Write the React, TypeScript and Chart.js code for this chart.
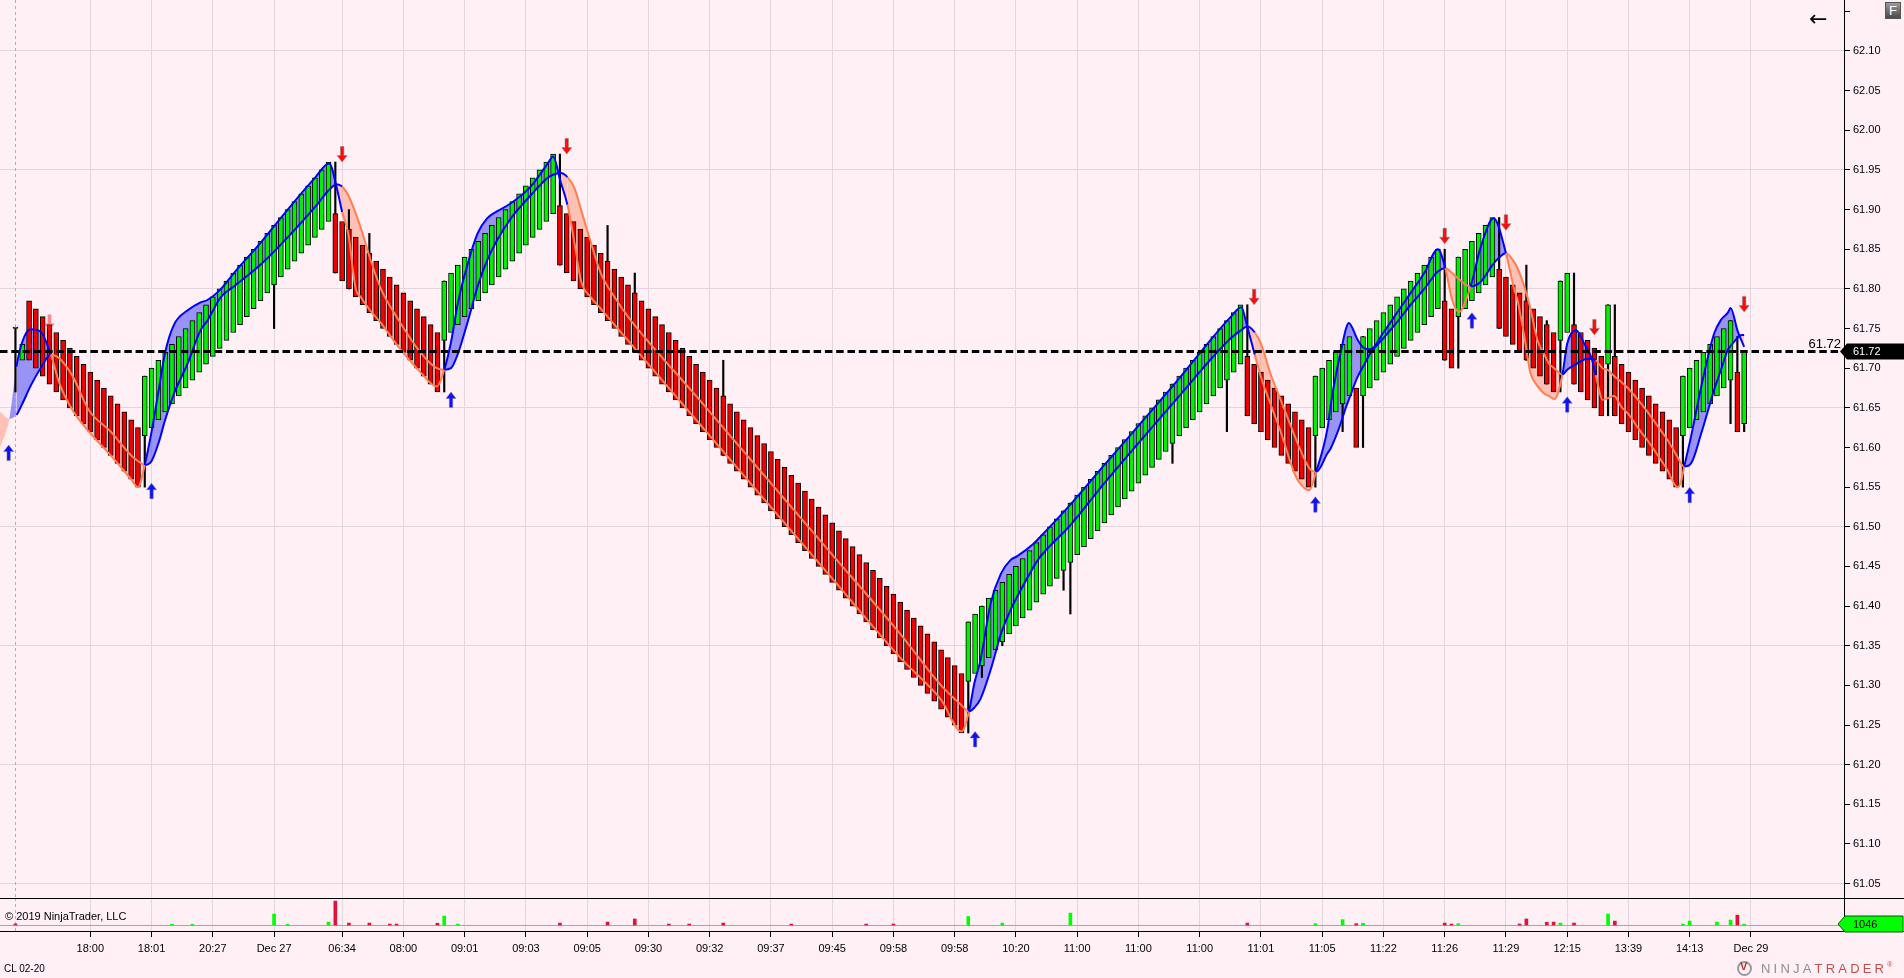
import React, { useEffect, useRef } from "react"
import { Chart, registerables } from "chart.js"

Chart.register(...registerables)
Chart.defaults.font.family = "'Liberation Sans', Arial, sans-serif"

// ---- data ----

// renko closes, one per bar (CL 02-20)
const closes = [
  61.75, 61.73,
  61.71, 61.70, 61.69, 61.68, 61.67, 61.66, 61.65, 61.64, 61.63, 61.62, 61.61, 61.60, 61.59, 61.58, 61.57, 61.56, 61.55,
  61.69, 61.70, 61.71, 61.72, 61.73, 61.74, 61.75, 61.76, 61.77, 61.78, 61.79, 61.80, 61.81, 61.82, 61.83, 61.84,
  61.85, 61.86, 61.87, 61.88, 61.89, 61.90, 61.91, 61.92, 61.93, 61.94, 61.95, 61.96,
  61.82, 61.81, 61.80, 61.79, 61.78, 61.77, 61.76, 61.75, 61.74, 61.73, 61.72, 61.71, 61.70, 61.69, 61.68, 61.67,
  61.81, 61.82, 61.83, 61.84, 61.85, 61.86, 61.87, 61.88, 61.89, 61.90, 61.91, 61.92, 61.93, 61.94, 61.95, 61.96, 61.97,
  61.83, 61.82, 61.81, 61.80, 61.79, 61.78, 61.77, 61.76, 61.75, 61.74,
  61.73, 61.72, 61.71, 61.70, 61.69, 61.68, 61.67, 61.66, 61.65, 61.64,
  61.63, 61.62, 61.61, 61.60, 61.59, 61.58, 61.57, 61.56, 61.55, 61.54,
  61.53, 61.52, 61.51, 61.50, 61.49, 61.48, 61.47, 61.46, 61.45, 61.44,
  61.43, 61.42, 61.41, 61.40, 61.39, 61.38, 61.37, 61.36, 61.35, 61.34,
  61.33, 61.32, 61.31, 61.30, 61.29, 61.28, 61.27, 61.26, 61.25, 61.24,
  61.38, 61.39, 61.40, 61.41, 61.42, 61.43, 61.44, 61.45, 61.46, 61.47,
  61.48, 61.49, 61.50, 61.51, 61.52, 61.53, 61.54, 61.55, 61.56, 61.57,
  61.58, 61.59, 61.60, 61.61, 61.62, 61.63, 61.64, 61.65, 61.66, 61.67,
  61.68, 61.69, 61.70, 61.71, 61.72, 61.73, 61.74, 61.75, 61.76, 61.77,
  61.78,
  61.64, 61.63, 61.62, 61.61, 61.60, 61.59, 61.58, 61.57, 61.56, 61.55,
  61.69, 61.70, 61.71, 61.72, 61.73, 61.74,
  61.60,
  61.74, 61.75, 61.76, 61.77, 61.78, 61.79, 61.80, 61.81, 61.82, 61.83, 61.84, 61.85,
  61.71, 61.70,
  61.84, 61.85, 61.86, 61.87, 61.88, 61.89,
  61.75, 61.74, 61.73, 61.72, 61.71, 61.70, 61.69, 61.68, 61.67,
  61.81, 61.82,
  61.68, 61.67, 61.66, 61.65, 61.64,
  61.78,
  61.64, 61.63, 61.62, 61.61, 61.60, 61.59, 61.58, 61.57, 61.56, 61.55,
  61.69, 61.70, 61.71, 61.72, 61.73, 61.74, 61.75, 61.76,
  61.62, 61.72,
]

// bars whose open is not one brick away from the close
const openOverrides: [number, number][] = [[0, 61.752], [1, 61.71], [254, 61.63]]
const brickHeight = 0.075

// [bar, low, high]
const wicks: [number, number, number][] = [
  [0, 61.67, 61.75], [19, 61.55, 61.69], [38, 61.75, 61.88], [47, 61.82, 61.96], [49, 61.80, 61.90],
  [52, 61.77, 61.87], [63, 61.67, 61.81], [80, 61.83, 61.97], [87, 61.76, 61.88], [91, 61.72, 61.82],
  [104, 61.59, 61.71], [140, 61.24, 61.38], [142, 61.31, 61.40], [145, 61.35, 61.43], [154, 61.42, 61.52],
  [155, 61.39, 61.53], [170, 61.58, 61.68], [178, 61.62, 61.76], [181, 61.64, 61.78], [191, 61.55, 61.69],
  [195, 61.62, 61.73], [198, 61.60, 61.74], [210, 61.71, 61.85], [212, 61.70, 61.84], [218, 61.75, 61.89],
  [222, 61.71, 61.83], [225, 61.68, 61.76], [227, 61.67, 61.81], [229, 61.68, 61.82], [234, 61.64, 61.78],
  [235, 61.64, 61.78], [245, 61.55, 61.69], [252, 61.63, 61.76], [253, 61.62, 61.74], [254, 61.62, 61.72],
]

// trend band: fast and slow line, sampled at these bar positions
const bandX = [
  -2.27, -0.9, 0.15, 1, 2.25, 3.7, 5.2, 6.5, 8.4, 10.8, 14, 17, 18, 19, 20, 21, 22, 23.3, 25.3, 27.2,
  28.2, 30.2, 32.1, 36.2, 40, 44, 46.1, 47.2, 48, 48.9, 50, 50.7, 52.2, 53.7, 56, 59.5, 61.9, 63, 64, 65,
  66.4, 67.9, 69.3, 70.8, 72.8, 75.7, 78.2, 79, 80.1, 81.1, 82.1, 83.1, 84.5, 86, 88, 90, 100, 110, 120, 130,
  136, 139, 140.1, 140.9, 141.8, 143.3, 144.8, 146.2, 147.2, 149.5, 150.2, 155, 160, 170, 178.6, 180.1, 181, 182.1, 183, 184.4,
  185.9, 187.8, 188.4, 190.1, 191.1, 192.8, 193.2, 194.2, 194.7, 195.5, 195.9, 197.2, 198.2, 199.1, 201, 203, 205, 207, 209, 210.1,
  211.1, 212.1, 213.8, 215.3, 217.2, 219, 220.2, 220.7, 221.7, 222.6, 223.6, 224.6, 225.3, 226.1, 227.3, 228, 229.3, 230.5, 231.6, 232.2,
  233.2, 233.9, 234.9, 235.9, 236.9, 238.8, 239.8, 241.7, 242.7, 244.2, 244.7, 245.2, 246.2, 247.7, 249.6, 250.6, 251.6, 252, 253, 253.3,
  254,
]
const bandFast = [
  61.600, 61.636, 61.702, 61.733, 61.749, 61.746, 61.717, 61.680, 61.647, 61.620, 61.590, 61.560, 61.550, 61.578, 61.620, 61.670, 61.720, 61.755, 61.773, 61.783,
  61.786, 61.800, 61.820, 61.860, 61.900, 61.940, 61.958, 61.928, 61.897, 61.870, 61.800, 61.790, 61.772, 61.757, 61.730, 61.695, 61.677, 61.698, 61.733, 61.782,
  61.830, 61.870, 61.889, 61.898, 61.908, 61.929, 61.958, 61.967, 61.935, 61.906, 61.860, 61.810, 61.790, 61.775, 61.755, 61.735, 61.635, 61.535, 61.435, 61.335,
  61.282, 61.242, 61.267, 61.303, 61.332, 61.404, 61.441, 61.458, 61.463, 61.478, 61.484, 61.528, 61.578, 61.677, 61.765, 61.777, 61.752, 61.717, 61.689, 61.655,
  61.620, 61.570, 61.559, 61.546, 61.569, 61.625, 61.651, 61.700, 61.719, 61.750, 61.757, 61.736, 61.725, 61.724, 61.745, 61.770, 61.795, 61.820, 61.850, 61.826,
  61.786, 61.771, 61.803, 61.853, 61.889, 61.845, 61.800, 61.786, 61.740, 61.694, 61.678, 61.668, 61.665, 61.661, 61.692, 61.731, 61.748, 61.731, 61.712, 61.691,
  61.660, 61.662, 61.665, 61.652, 61.643, 61.620, 61.609, 61.585, 61.572, 61.550, 61.556, 61.576, 61.614, 61.677, 61.744, 61.761, 61.770, 61.776, 61.748, 61.741,
  61.727,
]
const bandSlow = [
  61.645, 61.636, 61.641, 61.655, 61.678, 61.700, 61.717, 61.712, 61.690, 61.647, 61.620, 61.590, 61.583, 61.578, 61.583, 61.605, 61.635, 61.668, 61.706, 61.748,
  61.760, 61.790, 61.803, 61.832, 61.865, 61.903, 61.925, 61.932, 61.929, 61.918, 61.895, 61.878, 61.836, 61.800, 61.765, 61.720, 61.700, 61.698, 61.700, 61.718,
  61.757, 61.803, 61.836, 61.862, 61.889, 61.918, 61.940, 61.944, 61.946, 61.941, 61.928, 61.900, 61.860, 61.820, 61.790, 61.765, 61.665, 61.565, 61.465, 61.365,
  61.300, 61.275, 61.267, 61.272, 61.283, 61.320, 61.365, 61.395, 61.412, 61.448, 61.458, 61.502, 61.555, 61.655, 61.738, 61.748, 61.753, 61.745, 61.731, 61.693,
  61.660, 61.618, 61.605, 61.574, 61.569, 61.593, 61.598, 61.618, 61.630, 61.651, 61.660, 61.689, 61.705, 61.719, 61.738, 61.758, 61.780, 61.800, 61.822, 61.826,
  61.820, 61.812, 61.803, 61.809, 61.832, 61.845, 61.834, 61.826, 61.803, 61.775, 61.736, 61.718, 61.706, 61.700, 61.692, 61.698, 61.705, 61.711, 61.712, 61.710,
  61.700, 61.698, 61.690, 61.683, 61.675, 61.656, 61.645, 61.622, 61.610, 61.588, 61.580, 61.576, 61.580, 61.618, 61.673, 61.698, 61.723, 61.728, 61.738, 61.741,
  61.742,
]

// where the band changes colour (true = up / blue)
const trendSwitchX = [-0.9, 5.2, 19, 48, 63, 81.1, 140.1, 182.1, 191.1, 210.1, 213.8, 219, 227.3, 232.2, 245.2]
const trendSwitchUp = [true, false, true, false, true, false, true, false, true, false, true, false, true, false, true]

// [bar, tip price, opacity]
const downArrows: [number, number, number][] = [
  [5, 61.748, 0.45], [48, 61.96, 1], [81, 61.97, 1], [182, 61.78, 1],
  [210, 61.857, 1], [219, 61.874, 1], [232, 61.742, 1], [254, 61.771, 1],
]
// [bar, tip price]
const upArrows: [number, number][] = [
  [-1, 61.603], [20, 61.555], [64, 61.67], [141, 61.242],
  [191, 61.538], [214, 61.77], [228, 61.664], [246, 61.55],
]

// [bar, volume]
const volumes: [number, number][] = [
  [0, 1300], [23, 900], [26, 900], [38, 12200], [40, 900], [46, 3300], [47, 26600], [49, 2200], [52, 2200],
  [55, 1100], [56, 1100], [62, 2000], [63, 10000], [65, 1000], [80, 2200], [87, 3300], [91, 6700], [96, 1100],
  [99, 1100], [104, 2200], [114, 1100], [125, 1100], [129, 1100], [140, 9500], [145, 2200], [155, 13300],
  [181, 2200], [191, 1500], [195, 6000], [197, 1500], [198, 2000], [210, 2200], [211, 1100], [212, 1500],
  [221, 1200], [222, 6700], [225, 3000], [226, 3300], [227, 2200], [229, 2200], [234, 12200], [235, 4400],
  [245, 1100], [246, 4400], [250, 3300], [252, 5500], [253, 11000], [254, 1046],
]

const timeLabels = [
  "18:00", "18:01", "20:27", "Dec 27", "06:34", "08:00", "09:01", "09:03", "09:05", "09:30",
  "09:32", "09:37", "09:45", "09:58", "09:58", "10:20", "11:00", "11:00", "11:00", "11:01",
  "11:05", "11:22", "11:26", "11:29", "12:15", "13:39", "14:13", "Dec 29",
]
// bar slot each time label sits on
const timeTickBars = [
  11, 20, 29, 38, 48, 57, 66, 75, 84, 93, 102, 111, 120, 129,
  138, 147, 156, 165, 174, 183, 192, 201, 210, 219, 228, 237, 246, 255,
]
const priceTicks = [
  61.05, 61.1, 61.15, 61.2, 61.25, 61.3, 61.35, 61.4, 61.45, 61.5, 61.55, 61.6,
  61.65, 61.7, 61.75, 61.8, 61.85, 61.9, 61.95, 62.0, 62.05, 62.1, 62.15,
]

// ---- layout ----
const W = 1904
const PRICE_H = 898
const VOL_H = 80
const AXIS_W = 60
const X_MIN = -2.27
const X_MAX = 268.67
const Y_MIN = 61.0319
const Y_MAX = 62.1643
const VOL_MIN = -6600
const VOL_MAX = 30000

const BG = "#fff0f5"
const GRID = "#e2d6dc"
const GREEN = "#00f000"
const RED = "#f00000"
const BLUE = "#0000ff"
const CORAL = "rgb(255,127,80)"
const LAVENDER = "rgba(80,80,245,0.58)"
const SALMON = "rgba(255,130,100,0.43)"
const FONT = "'Liberation Sans', Arial, sans-serif"

const opens = closes.map((c, i) => {
  const o = openOverrides.find((d) => d[0] === i)
  if (o) return o[1]
  const prev = i > 0 ? closes[i - 1] : c
  return c > prev ? c - brickHeight : c + brickHeight
})
const isUp = closes.map((c, i) => c >= opens[i])
const lastClose = closes[closes.length - 1]

const trendUpAt = (x: number) => {
  let up = false
  trendSwitchX.forEach((sx, i) => {
    if (x >= sx - 1e-9) up = trendSwitchUp[i]
  })
  return up
}

const segColor = (ctx: any) => {
  if (ctx.p0.parsed.x < 0) return "rgba(0,0,0,0)"
  return trendUpAt(ctx.p0.parsed.x) ? BLUE : CORAL
}

const drawArrow = (ctx: CanvasRenderingContext2D, x: number, tipY: number, up: boolean, color: string, alpha: number) => {
  const d = up ? -1 : 1
  const headH = 6.5
  const total = 15.5
  const headW = 5
  const shaftW = 1.7
  ctx.save()
  ctx.globalAlpha = alpha
  ctx.beginPath()
  ctx.moveTo(x, tipY)
  ctx.lineTo(x + headW, tipY - d * headH)
  ctx.lineTo(x + shaftW, tipY - d * headH)
  ctx.lineTo(x + shaftW, tipY - d * total)
  ctx.lineTo(x - shaftW, tipY - d * total)
  ctx.lineTo(x - shaftW, tipY - d * headH)
  ctx.lineTo(x - headW, tipY - d * headH)
  ctx.closePath()
  ctx.fillStyle = color
  ctx.fill()
  ctx.strokeStyle = "rgba(130,130,130,0.5)"
  ctx.lineWidth = 1
  ctx.stroke()
  ctx.restore()
}

const sessionLine = (chart: any, bottom: number) => {
  const { ctx, scales } = chart
  const xs = Math.round(scales.x.getPixelForValue(0)) + 0.5
  ctx.save()
  ctx.setLineDash([3, 3])
  ctx.strokeStyle = "#b4acb0"
  ctx.lineWidth = 1
  ctx.beginPath()
  ctx.moveTo(xs, 0)
  ctx.lineTo(xs, bottom)
  ctx.stroke()
  ctx.restore()
}

const pricePlugin = {
  id: "priceDecor",
  beforeDatasetsDraw(chart: any) {
    sessionLine(chart, chart.chartArea.bottom)
  },
  afterDatasetsDraw(chart: any) {
    const { ctx, chartArea, scales } = chart
    const x = scales.x
    const y = scales.y
    downArrows.forEach(([i, p, a]) => drawArrow(ctx, x.getPixelForValue(i), y.getPixelForValue(p), false, "#ff0a0a", a))
    upArrows.forEach(([i, p]) => drawArrow(ctx, x.getPixelForValue(i), y.getPixelForValue(p), true, "#1010ff", 1))

    const yl = Math.round(y.getPixelForValue(lastClose)) - 0.5
    ctx.save()
    ctx.setLineDash([7.5, 3.8])
    ctx.strokeStyle = "#000"
    ctx.lineWidth = 3
    ctx.beginPath()
    ctx.moveTo(chartArea.left, yl)
    ctx.lineTo(chartArea.right - 4, yl)
    ctx.stroke()
    ctx.setLineDash([])

    ctx.fillStyle = "#000"
    ctx.font = `13px ${FONT}`
    ctx.textAlign = "right"
    ctx.textBaseline = "alphabetic"
    ctx.fillText(lastClose.toFixed(2), chartArea.right - 3, yl - 4)

    const r = chartArea.right
    ctx.beginPath()
    ctx.moveTo(r - 4, yl)
    ctx.lineTo(r + 3, yl - 8)
    ctx.lineTo(W, yl - 8)
    ctx.lineTo(W, yl + 8)
    ctx.lineTo(r + 3, yl + 8)
    ctx.closePath()
    ctx.fill()
    ctx.fillStyle = "#fff"
    ctx.font = `11px ${FONT}`
    ctx.textAlign = "left"
    ctx.textBaseline = "middle"
    ctx.fillText(lastClose.toFixed(2), r + 9, yl + 0.5)
    ctx.restore()
  },
}

const volumePlugin = {
  id: "volumeDecor",
  beforeDatasetsDraw(chart: any) {
    const { ctx, chartArea, scales } = chart
    const y0 = Math.round(scales.y.getPixelForValue(0)) + 0.5
    ctx.save()
    ctx.strokeStyle = "#a8a8a8"
    ctx.lineWidth = 1
    ctx.beginPath()
    ctx.moveTo(chartArea.left, y0)
    ctx.lineTo(chartArea.right - 4, y0)
    ctx.stroke()
    ctx.restore()
    sessionLine(chart, chartArea.bottom)
  },
  afterDraw(chart: any) {
    const { ctx, chartArea, scales } = chart
    ctx.save()
    ctx.strokeStyle = "#000"
    ctx.lineWidth = 1
    ctx.beginPath()
    ctx.moveTo(0, 0.5)
    ctx.lineTo(W, 0.5)
    ctx.moveTo(0, chartArea.bottom + 0.5)
    ctx.lineTo(W, chartArea.bottom + 0.5)
    ctx.stroke()

    const last = volumes[volumes.length - 1]
    const yc = Math.round(scales.y.getPixelForValue(last[1]))
    const r = chartArea.right
    ctx.beginPath()
    ctx.moveTo(r - 6, yc)
    ctx.lineTo(r + 1, yc - 8)
    ctx.lineTo(W - 1, yc - 8)
    ctx.lineTo(W - 1, yc + 8)
    ctx.lineTo(r + 1, yc + 8)
    ctx.closePath()
    ctx.fillStyle = "#00ff00"
    ctx.fill()
    ctx.strokeStyle = "#005a00"
    ctx.stroke()
    ctx.fillStyle = "#000"
    ctx.font = `11px ${FONT}`
    ctx.textAlign = "left"
    ctx.textBaseline = "middle"
    ctx.fillText(String(last[1]), r + 9, yc + 0.5)
    ctx.restore()
  },
}

const timeAxisBase = {
  type: "linear" as const,
  min: X_MIN,
  max: X_MAX,
  offset: false,
  afterBuildTicks: (s: any) => {
    s.ticks = timeTickBars.map((v) => ({ value: v }))
  },
}

const PriceChart: React.FC = () => {
  const ref = useRef<HTMLCanvasElement>(null)
  useEffect(() => {
    if (!ref.current) return
    const chart = new Chart(ref.current, {
      type: "bar",
      data: {
        datasets: [
          {
            type: "line",
            data: bandX.map((x, i) => ({ x, y: bandFast[i] })),
            borderColor: BLUE,
            borderWidth: 2,
            pointRadius: 0,
            cubicInterpolationMode: "monotone",
            fill: { target: 1, above: LAVENDER, below: SALMON },
            segment: { borderColor: segColor },
            order: 0,
          },
          {
            type: "line",
            data: bandX.map((x, i) => ({ x, y: bandSlow[i] })),
            borderColor: BLUE,
            borderWidth: 2,
            pointRadius: 0,
            cubicInterpolationMode: "monotone",
            fill: false,
            segment: { borderColor: segColor },
            order: 0,
          },
          {
            type: "bar",
            data: closes.map((c, i) => ({ x: i, y: [opens[i], c] })),
            backgroundColor: isUp.map((u) => (u ? GREEN : RED)),
            borderColor: "#000",
            borderWidth: 1,
            borderSkipped: false,
            barThickness: 5,
            grouped: false,
            order: 1,
          },
          {
            type: "bar",
            data: wicks.map(([i, lo, hi]) => ({ x: i, y: [lo, hi] })),
            backgroundColor: "#000",
            borderWidth: 0,
            barThickness: 1.5,
            grouped: false,
            order: 2,
          },
        ] as any,
      },
      options: {
        animation: false,
        responsive: false,
        events: [],
        layout: { padding: 0 },
        plugins: {
          legend: { display: false },
          tooltip: { enabled: false },
          filler: { drawTime: "beforeDatasetsDraw" },
        } as any,
        scales: {
          x: {
            ...timeAxisBase,
            afterFit: (s: any) => {
              s.height = 0
              s.paddingLeft = 0
              s.paddingRight = 0
            },
            ticks: { display: false },
            grid: { color: GRID, drawTicks: false, offset: false },
            border: { display: false },
          },
          y: {
            type: "linear",
            position: "right",
            min: Y_MIN,
            max: Y_MAX,
            afterBuildTicks: (s: any) => {
              s.ticks = priceTicks.map((v) => ({ value: v }))
            },
            afterFit: (s: any) => {
              s.width = AXIS_W
              s.paddingTop = 0
              s.paddingBottom = 0
            },
            ticks: {
              autoSkip: false,
              padding: 3,
              color: "#000",
              font: { size: 11 },
              callback: (v: any) => (Number(v) > 62.12 ? "" : Number(v).toFixed(2)),
            },
            grid: {
              color: (ctx: any) => {
                const k = (62.1 - ctx.tick.value) / 0.15
                return Math.abs(k - Math.round(k)) < 1e-6 ? GRID : "rgba(0,0,0,0)"
              },
              tickColor: "#000",
              tickLength: 6,
            },
            border: { color: "#000", width: 1 },
          },
        } as any,
      },
      plugins: [pricePlugin],
    })
    return () => chart.destroy()
  }, [])
  return <canvas ref={ref} width={W} height={PRICE_H} style={{ position: "absolute", left: 0, top: 0 }} />
}

const VolumeChart: React.FC = () => {
  const ref = useRef<HTMLCanvasElement>(null)
  useEffect(() => {
    if (!ref.current) return
    const chart = new Chart(ref.current, {
      type: "bar",
      data: {
        datasets: [
          {
            data: volumes.map(([i, v]) => ({ x: i, y: v })),
            backgroundColor: volumes.map(([i]) => (isUp[i] ? "#00ff00" : "#dc143c")),
            borderWidth: 0,
            barThickness: 3,
            grouped: false,
          },
        ] as any,
      },
      options: {
        animation: false,
        responsive: false,
        events: [],
        layout: { padding: 0 },
        plugins: { legend: { display: false }, tooltip: { enabled: false } },
        scales: {
          x: {
            ...timeAxisBase,
            afterFit: (s: any) => {
              s.height = VOL_H - 33
              s.paddingLeft = 0
              s.paddingRight = 0
            },
            ticks: {
              autoSkip: false,
              maxRotation: 0,
              padding: 5,
              color: "#000",
              font: { size: 11 },
              callback: (_v: any, i: number) => timeLabels[i] ?? "",
            },
            grid: { color: GRID, tickColor: "#000", tickLength: 6, offset: false },
            border: { display: false },
          },
          y: {
            type: "linear",
            position: "right",
            min: VOL_MIN,
            max: VOL_MAX,
            afterFit: (s: any) => {
              s.width = AXIS_W
              s.paddingTop = 0
              s.paddingBottom = 0
            },
            ticks: { display: false },
            grid: { display: false },
            border: { color: "#000", width: 1 },
          },
        } as any,
      },
      plugins: [volumePlugin],
    })
    return () => chart.destroy()
  }, [])
  return <canvas ref={ref} width={W} height={VOL_H} style={{ position: "absolute", left: 0, top: PRICE_H }} />
}

const App: React.FC = () => {
  useEffect(() => {
    document.body.style.margin = "0"
    document.body.style.overflow = "hidden"
  }, [])
  return (
    <div style={{ position: "absolute", left: 0, top: 0, width: W, height: PRICE_H + VOL_H, background: BG, overflow: "hidden", fontFamily: FONT }}>
      <PriceChart />
      <VolumeChart />
      <div style={{ position: "absolute", left: 5, top: 910, fontSize: 11, lineHeight: "13px", color: "#000" }}>© 2019 NinjaTrader, LLC</div>
      <div style={{ position: "absolute", left: 4, top: 963, fontSize: 10, lineHeight: "12px", color: "#000" }}>CL 02-20</div>
      <div style={{ position: "absolute", left: 1809, top: 7, fontSize: 22, lineHeight: "24px", color: "#000", fontFamily: "'DejaVu Sans', sans-serif" }}>←</div>
      <div
        style={{
          position: "absolute", left: 1885, top: 2, width: 16, height: 17, boxSizing: "border-box",
          background: "linear-gradient(#9a9a9a, #4a4a4a)", border: "1px solid #555", color: "#fff",
          fontSize: 13, lineHeight: "15px", textAlign: "center",
        }}
      >F</div>
      <div style={{ position: "absolute", left: 1737, top: 961, height: 14, display: "flex", alignItems: "center" }}>
        <div style={{ width: 11, height: 11, borderRadius: "50%", border: "2px solid #999", boxSizing: "content-box", position: "relative", marginRight: 9 }}>
          <div style={{ position: "absolute", left: 1, top: -3, fontSize: 11, color: "#b03a2e", fontWeight: "bold" }}>V</div>
        </div>
        <span style={{ fontSize: 13, letterSpacing: 3.2, color: "#8f8f8f" }}>NINJA</span>
        <span style={{ fontSize: 13, letterSpacing: 3.2, color: "#c0504d" }}>TRADER</span>
        <span style={{ fontSize: 7, color: "#c0504d", alignSelf: "flex-start" }}>®</span>
      </div>
    </div>
  )
}

export default App
